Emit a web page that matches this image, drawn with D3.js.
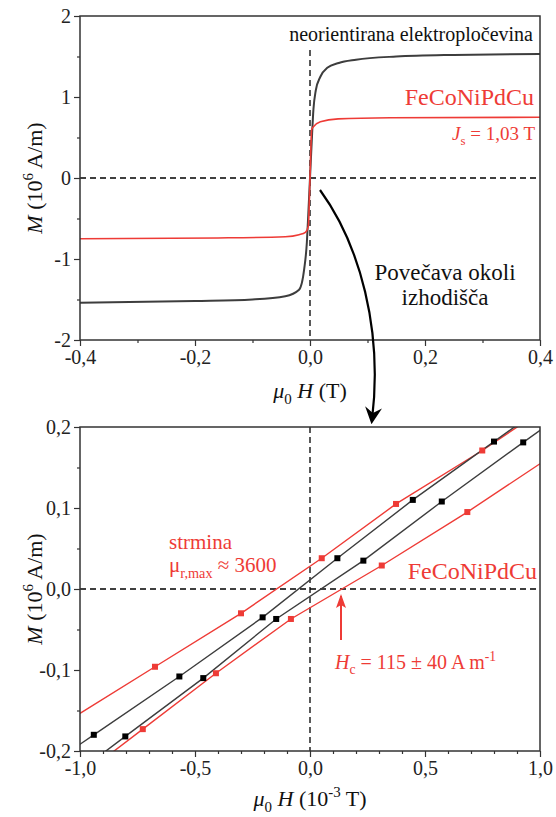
<!DOCTYPE html>
<html>
<head>
<meta charset="utf-8">
<script src="https://cdn.jsdelivr.net/npm/d3@7"></script>
<style>
  body { margin: 0; background: #fff; }
  svg { display: block; font-family: 'Liberation Serif', 'Times New Roman', serif; }
  text { white-space: pre; }
</style>
</head>
<body>
<svg class="chart"></svg>
<script>
//Chart size
const width = 556;
const height = 817;

//Top plot data (mu0 H in T, M in 10^6 A/m)
const steelH = [-0.4, -0.2, -0.1, -0.043, -0.019, -0.01, -0.0055, -0.003, 0, 0.003, 0.006, 0.01, 0.018, 0.03, 0.05, 0.08, 0.15, 0.25, 0.4];
const steelM = [-1.54, -1.52, -1.5, -1.46, -1.38, -1.12, -0.8, -0.45, 0, 0.45, 0.85, 1.08, 1.25, 1.36, 1.42, 1.46, 1.5, 1.52, 1.53];
const alloyH = [-0.4, -0.16, -0.043, -0.019, -0.008, -0.003, 0, 0.003, 0.0055, 0.018, 0.049, 0.14, 0.4];
const alloyM = [-0.75, -0.74, -0.725, -0.7, -0.67, -0.6, 0, 0.6, 0.63, 0.695, 0.73, 0.743, 0.75];

//Bottom plot data (mu0 H in 10^-3 T, M in 10^6 A/m), first/last points lie outside the frame
const alloyUpH = [-1.02, -0.674, -0.3, 0.051, 0.374, 0.749, 1.1];
const alloyUpM = [-0.157, -0.096, -0.03, 0.038, 0.105, 0.171, 0.238];
const alloyLowH = [-1.05, -0.727, -0.409, -0.083, 0.312, 0.684, 1.06];
const alloyLowM = [-0.243, -0.173, -0.104, -0.037, 0.029, 0.095, 0.166];
const steelUpH = [-1.29, -0.94, -0.568, -0.206, 0.119, 0.447, 0.8, 1.15];
const steelUpM = [-0.248, -0.18, -0.108, -0.035, 0.038, 0.11, 0.182, 0.253];
const steelLowH = [-1.15, -0.803, -0.464, -0.147, 0.232, 0.573, 0.927, 1.28];
const steelLowM = [-0.256, -0.182, -0.11, -0.037, 0.035, 0.108, 0.181, 0.253];

//Ticks
const topXTicks = [-0.4, -0.2, 0, 0.2, 0.4];
const topXMinor = [-0.3, -0.1, 0.1, 0.3];
const topYTicks = [-2, -1, 0, 1, 2];
const topYMinor = [-1.5, -0.5, 0.5, 1.5];
const botXTicks = [-1, -0.5, 0, 0.5, 1];
const botXMinor = [-0.9, -0.8, -0.7, -0.6, -0.4, -0.3, -0.2, -0.1, 0.1, 0.2, 0.3, 0.4, 0.6, 0.7, 0.8, 0.9];
const botYTicks = [-0.2, -0.1, 0, 0.1, 0.2];
const botYMinor = [-0.15, -0.05, 0.05, 0.15];

const red = '#ee3b36';
const dark = '#3d3d3d';

const svg = d3.select('.chart').attr('width', width).attr('height', height);
svg.append('rect').attr('width', width).attr('height', height).attr('fill', '#fff');

const defs = svg.append('defs');
defs.append('marker')
  .attr('id', 'headBlack')
  .attr('viewBox', '0 0 12 12')
  .attr('refX', 9).attr('refY', 6)
  .attr('markerWidth', 17).attr('markerHeight', 17)
  .attr('markerUnits', 'userSpaceOnUse')
  .attr('orient', 'auto')
  .append('path').attr('d', 'M0,0 L12,6 L0,12 L4,6 z').attr('fill', '#000');
defs.append('marker')
  .attr('id', 'headRed')
  .attr('viewBox', '0 0 14 10')
  .attr('refX', 12).attr('refY', 5)
  .attr('markerWidth', 14).attr('markerHeight', 10)
  .attr('markerUnits', 'userSpaceOnUse')
  .attr('orient', 'auto')
  .append('path').attr('d', 'M0,0 L14,5 L0,10 L3,5 z').attr('fill', red);

//text with italic / sub / sup parts
function richText(parent, x, y, parts, size, anchor, fill) {
  const t = parent.append('text')
    .attr('x', x).attr('y', y)
    .attr('font-size', size)
    .attr('text-anchor', anchor)
    .attr('fill', fill);
  let shift = 0;
  parts.forEach(p => {
    const s = t.append('tspan').text(p.t);
    const target = p.sub ? size * 0.27 : p.sup ? -size * 0.4 : 0;
    s.attr('dy', target - shift);
    shift = target;
    if (p.sub || p.sup) s.attr('font-size', size * 0.68);
    if (p.i) s.attr('font-style', 'italic');
  });
  return t;
}

const comma = digits => d => d.toFixed(digits).replace('.', ',');

//Draw one panel with frame, ticks, dashed zero lines
function drawPanel(cfg) {
  const x = d3.scaleLinear().domain(cfg.xDomain).range([80, 540]);
  const y = d3.scaleLinear().domain(cfg.yDomain).range([cfg.bottom, cfg.top]);
  const g = svg.append('g');

  const clipId = 'clip' + cfg.top;
  defs.append('clipPath').attr('id', clipId)
    .append('rect').attr('x', 80).attr('y', cfg.top)
    .attr('width', 460).attr('height', cfg.bottom - cfg.top);

  //dashed zero lines
  g.append('line')
    .attr('x1', x(cfg.xDomain[0])).attr('x2', x(cfg.xDomain[1]))
    .attr('y1', y(0)).attr('y2', y(0))
    .attr('stroke', '#000').attr('stroke-width', 1.3).attr('stroke-dasharray', '6,4');
  g.append('line')
    .attr('x1', x(0)).attr('x2', x(0))
    .attr('y1', cfg.vTop).attr('y2', cfg.bottom)
    .attr('stroke', '#000').attr('stroke-width', 1.3).attr('stroke-dasharray', '6,4');

  const plot = g.append('g').attr('clip-path', `url(#${clipId})`);

  //axes
  const styleAxis = a => {
    a.select('.domain').remove();
    a.selectAll('line').attr('stroke', '#333').attr('stroke-width', 1.2);
    a.selectAll('text')
      .attr('font-family', "'Liberation Serif', serif")
      .attr('font-size', 20)
      .attr('fill', '#222');
  };
  g.append('g').attr('transform', `translate(0,${cfg.bottom})`)
    .call(d3.axisBottom(x).tickValues(cfg.xTicks).tickSize(6).tickPadding(4).tickFormat(cfg.xFmt))
    .call(styleAxis);
  g.append('g').attr('transform', `translate(0,${cfg.bottom})`)
    .call(d3.axisBottom(x).tickValues(cfg.xMinor).tickSize(3).tickFormat(''))
    .call(styleAxis);
  g.append('g').attr('transform', 'translate(80,0)')
    .call(d3.axisLeft(y).tickValues(cfg.yTicks).tickSize(6).tickPadding(3).tickFormat(cfg.yFmt))
    .call(styleAxis);
  g.append('g').attr('transform', 'translate(80,0)')
    .call(d3.axisLeft(y).tickValues(cfg.yMinor).tickSize(3).tickFormat(''))
    .call(styleAxis);

  g.append('rect')
    .attr('x', 80).attr('y', cfg.top)
    .attr('width', 460).attr('height', cfg.bottom - cfg.top)
    .attr('fill', 'none').attr('stroke', '#333').attr('stroke-width', 1.5);

  return { x, y, plot, g };
}

//Top panel
const topPanel = drawPanel({
  xDomain: [-0.4, 0.4], yDomain: [-2, 2], top: 16, bottom: 340, vTop: 50,
  xTicks: topXTicks, xMinor: topXMinor, yTicks: topYTicks, yMinor: topYMinor,
  xFmt: comma(1), yFmt: comma(0)
});

const topLine = d3.line()
  .x(d => topPanel.x(d[0]))
  .y(d => topPanel.y(d[1]))
  .curve(d3.curveMonotoneX);

topPanel.plot.append('path')
  .datum(steelH.map((h, i) => [h, steelM[i]]))
  .attr('d', topLine)
  .attr('fill', 'none').attr('stroke', dark).attr('stroke-width', 2);
topPanel.plot.append('path')
  .datum(alloyH.map((h, i) => [h, alloyM[i]]))
  .attr('d', topLine)
  .attr('fill', 'none').attr('stroke', red).attr('stroke-width', 1.6);

svg.append('text')
  .attr('x', 533).attr('y', 41)
  .attr('font-size', 20).attr('text-anchor', 'end').attr('fill', '#111')
  .text('neorientirana elektropločevina');
svg.append('text')
  .attr('x', 534).attr('y', 105)
  .attr('font-size', 24).attr('text-anchor', 'end').attr('fill', red)
  .text('FeCoNiPdCu');
richText(svg, 535, 140, [{ t: 'J', i: true }, { t: 's', sub: true }, { t: ' = 1,03 T' }], 19, 'end', red);

richText(svg.append('g').attr('transform', 'translate(42,178) rotate(-90)'), 0, 0,
  [{ t: 'M', i: true }, { t: ' (10' }, { t: '6', sup: true }, { t: ' A/m)' }], 22, 'middle', '#111');
richText(svg, 310, 398,
  [{ t: 'μ', i: true }, { t: '0', sub: true }, { t: ' ' }, { t: 'H', i: true }, { t: ' (T)' }], 22, 'middle', '#111');

//curved arrow down to the zoomed panel
svg.append('path')
  .attr('d', 'M320,190 C360,245 383,330 372,420')
  .attr('fill', 'none').attr('stroke', '#000').attr('stroke-width', 2.2)
  .attr('marker-end', 'url(#headBlack)');
svg.append('text')
  .attr('x', 445).attr('y', 280)
  .attr('font-size', 23).attr('text-anchor', 'middle').attr('fill', '#111')
  .text('Povečava okoli');
svg.append('text')
  .attr('x', 445).attr('y', 305)
  .attr('font-size', 23).attr('text-anchor', 'middle').attr('fill', '#111')
  .text('izhodišča');

//Bottom panel
const botPanel = drawPanel({
  xDomain: [-1, 1], yDomain: [-0.2, 0.2], top: 427, bottom: 751, vTop: 427,
  xTicks: botXTicks, xMinor: botXMinor, yTicks: botYTicks, yMinor: botYMinor,
  xFmt: comma(1), yFmt: comma(1)
});

const botLine = d3.line()
  .x(d => botPanel.x(d[0]))
  .y(d => botPanel.y(d[1]));

const series = [
  { h: alloyUpH, m: alloyUpM, line: red, mark: red, w: 1.4 },
  { h: alloyLowH, m: alloyLowM, line: red, mark: red, w: 1.4 },
  { h: steelUpH, m: steelUpM, line: dark, mark: '#000', w: 1.4 },
  { h: steelLowH, m: steelLowM, line: dark, mark: '#000', w: 1.4 }
];

series.forEach(s => {
  const pts = s.h.map((h, i) => [h, s.m[i]]);
  botPanel.plot.append('path')
    .datum(pts)
    .attr('d', botLine)
    .attr('fill', 'none').attr('stroke', s.line).attr('stroke-width', s.w);
});
series.forEach(s => {
  const pts = s.h.map((h, i) => [h, s.m[i]]);
  botPanel.plot.selectAll(null)
    .data(pts)
    .enter()
    .append('rect')
    .attr('x', d => botPanel.x(d[0]) - 3)
    .attr('y', d => botPanel.y(d[1]) - 3)
    .attr('width', 6).attr('height', 6)
    .attr('fill', s.mark);
});

richText(svg.append('g').attr('transform', 'translate(42,589) rotate(-90)'), 0, 0,
  [{ t: 'M', i: true }, { t: ' (10' }, { t: '6', sup: true }, { t: ' A/m)' }], 22, 'middle', '#111');
richText(svg, 310, 806,
  [{ t: 'μ', i: true }, { t: '0', sub: true }, { t: ' ' }, { t: 'H', i: true }, { t: ' (10' }, { t: '-3', sup: true }, { t: ' T)' }], 22, 'middle', '#111');

svg.append('text')
  .attr('x', 169).attr('y', 549)
  .attr('font-size', 21).attr('fill', red)
  .text('strmina');
richText(svg, 169, 572, [{ t: 'μ' }, { t: 'r,max', sub: true }, { t: ' ≈ 3600' }], 21, 'start', red);
svg.append('text')
  .attr('x', 537).attr('y', 579)
  .attr('font-size', 24).attr('text-anchor', 'end').attr('fill', red)
  .text('FeCoNiPdCu');

svg.append('line')
  .attr('x1', 341).attr('x2', 341)
  .attr('y1', 640).attr('y2', 596)
  .attr('stroke', red).attr('stroke-width', 2)
  .attr('marker-end', 'url(#headRed)');
richText(svg, 335, 669,
  [{ t: 'H', i: true }, { t: 'c', sub: true }, { t: ' = 115 ± 40 A m' }, { t: '-1', sup: true }], 20, 'start', red);
</script>
</body>
</html>
